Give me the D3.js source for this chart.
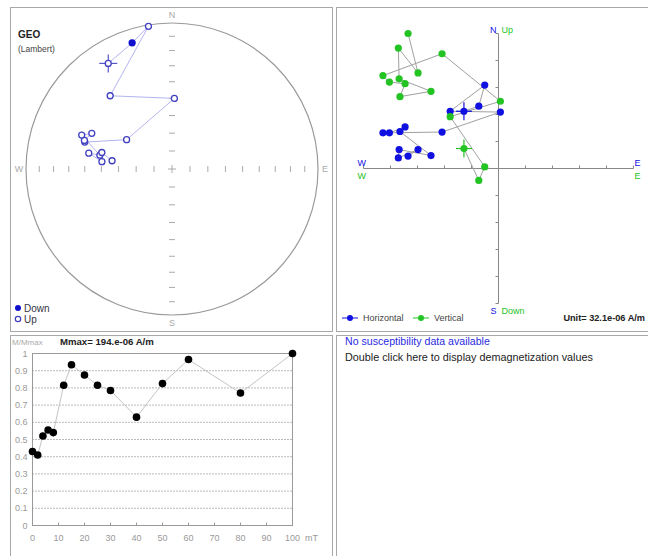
<!DOCTYPE html>
<html>
<head>
<meta charset="utf-8">
<script src="https://cdn.jsdelivr.net/npm/d3@7"></script>
<style>
  body { margin: 0; background: #fff; }
  svg { display: block; font-family: "Liberation Sans", Arial, sans-serif; }
</style>
</head>
<body>
<svg id="chart" width="648" height="556"></svg>
<script>
// demagnetization steps (mT)
const steps = [0, 2, 4, 6, 8, 12, 15, 20, 25, 30, 40, 50, 60, 80, 100]
// vector components in plot units (1 unit = 32.1e-06 A/m)
const east = [-1.28, -0.73, -0.51, -1.79, 0.07, -2.09, -4.28, -4.04, -3.46, -3.65, -2.5, -3.68, -3.71, -2.98, -3.35]
const north = [2.12, 2.31, 3.09, 2.12, 2.09, 1.35, 1.32, 1.32, 1.54, 1.37, 0.48, 0.7, 0.39, 0.7, 0.46]
const up = [0.74, -0.44, 0.06, 1.92, 2.49, 4.25, 3.44, 3.2, 3.14, 2.66, 2.86, 3.32, 4.46, 3.54, 5.0]
// normalized intensity M/Mmax
const intensity = [0.43, 0.41, 0.52, 0.555, 0.54, 0.815, 0.935, 0.875, 0.815, 0.785, 0.63, 0.825, 0.965, 0.77, 1.0]
const yTicks = [0, 0.1, 0.2, 0.3, 0.4, 0.5, 0.6, 0.7, 0.8, 0.9, 1]
const xTicks = [0, 10, 20, 30, 40, 50, 60, 70, 80, 90, 100]
const zTicks = [-5, -4, -3, -2, -1, 1, 2, 3, 4, 5]
const incTicks = [10, 20, 30, 40, 50, 60, 70, 80]

const svg = d3.select('#chart')
const data = steps.map((s, i) => ({ step: s, e: east[i], n: north[i], u: up[i], m: intensity[i] }))

const BLUE = '#1010e0'
const GREEN = '#22c322'

// panel frames
const panels = [[10, 7, 322, 324], [336, 7, 320, 324], [10, 335, 322, 230], [336, 335, 320, 230]]
svg.selectAll('.panel')
  .data(panels)
  .enter()
  .append('rect')
  .attr('class', 'panel')
  .attr('x', (d) => d[0] + 0.5)
  .attr('y', (d) => d[1] + 0.5)
  .attr('width', (d) => d[2])
  .attr('height', (d) => d[3])
  .style('fill', 'none')
  .style('stroke', '#a8a8a8')

// ---------- Stereonet (equal area) ----------
const cx = 172
const cy = 169
const R = 146
const rScale = d3.scaleLinear().domain([0, 1]).range([0, R])
const lambert = (inc) => Math.SQRT2 * Math.sin(((90 - Math.abs(inc)) / 2) * Math.PI / 180)

const stereo = svg.append('g').attr('transform', `translate(${cx},${cy})`)
stereo.append('circle').attr('r', R).style('fill', 'none').style('stroke', '#9a9a9a').style('stroke-width', 1.2)

const tickR = incTicks.map((d) => rScale(lambert(d)))
const tg = stereo.append('g').style('stroke', '#aaa').style('stroke-width', 1)
tickR.forEach((r) => {
  ;[-1, 1].forEach((s) => {
    tg.append('line').attr('x1', s * r).attr('x2', s * r).attr('y1', -3).attr('y2', 3)
    tg.append('line').attr('y1', s * r).attr('y2', s * r).attr('x1', -3).attr('x2', 3)
  })
})
tg.append('line').attr('x1', -4).attr('x2', 4)
tg.append('line').attr('y1', -4).attr('y2', 4)

const compass = [['N', 0, -R - 5], ['S', 0, R + 11], ['W', -R - 7, 3], ['E', R + 7, 3]]
stereo.selectAll('.compass')
  .data(compass)
  .enter()
  .append('text')
  .attr('x', (d) => d[1])
  .attr('y', (d) => d[2])
  .attr('text-anchor', 'middle')
  .style('font-size', '9px')
  .style('fill', '#aaa')
  .text((d) => d[0])

const stereoPts = data.map((d) => {
  const h = Math.hypot(d.e, d.n)
  const inc = Math.atan2(d.u, h) * 180 / Math.PI
  const dec = Math.atan2(d.e, d.n)
  const r = rScale(lambert(inc))
  return { x: r * Math.sin(dec), y: -r * Math.cos(dec), down: d.u < 0 }
})

stereo.append('path')
  .datum(stereoPts)
  .attr('d', d3.line().x((d) => d.x).y((d) => d.y))
  .style('fill', 'none')
  .style('stroke', '#b4b4f0')
  .style('stroke-width', 1)

// cross on first step
stereo.append('g')
  .style('stroke', '#5555cc')
  .style('stroke-width', 1.2)
  .call((g) => {
    g.append('line').attr('x1', stereoPts[0].x - 9).attr('x2', stereoPts[0].x + 9).attr('y1', stereoPts[0].y).attr('y2', stereoPts[0].y)
    g.append('line').attr('y1', stereoPts[0].y - 9).attr('y2', stereoPts[0].y + 9).attr('x1', stereoPts[0].x).attr('x2', stereoPts[0].x)
  })

stereo.selectAll('.spt')
  .data(stereoPts)
  .enter()
  .append('circle')
  .attr('class', 'spt')
  .attr('cx', (d) => d.x)
  .attr('cy', (d) => d.y)
  .attr('r', 3)
  .style('fill', (d) => (d.down ? '#1010cc' : '#fff'))
  .style('stroke', (d) => (d.down ? '#1010cc' : '#4040c0'))
  .style('stroke-width', 1.3)

svg.append('text').attr('x', 18).attr('y', 38).style('font-size', '10px').style('font-weight', 'bold').style('fill', '#222').text('GEO')
svg.append('text').attr('x', 18).attr('y', 52).style('font-size', '8.5px').style('fill', '#444').text('(Lambert)')

svg.append('circle').attr('cx', 18).attr('cy', 308).attr('r', 3).style('fill', '#1010cc')
svg.append('circle').attr('cx', 18).attr('cy', 319).attr('r', 2.7).style('fill', '#fff').style('stroke', '#4040c0').style('stroke-width', 1.2)
svg.append('text').attr('x', 24).attr('y', 312).style('font-size', '10px').style('fill', '#334').text('Down')
svg.append('text').attr('x', 24).attr('y', 323).style('font-size', '10px').style('fill', '#334').text('Up')

// ---------- Zijderveld diagram ----------
const zx = d3.scaleLinear().domain([-5, 5]).range([363.5, 633.5])
const zy = d3.scaleLinear().domain([-5, 5]).range([303.5, 33.5])
const zij = svg.append('g')

zij.append('line').attr('x1', zx(-5)).attr('x2', zx(5)).attr('y1', zy(0)).attr('y2', zy(0)).style('stroke', '#888')
zij.append('line').attr('x1', zx(0)).attr('x2', zx(0)).attr('y1', zy(5)).attr('y2', zy(-5)).style('stroke', '#888')
zij.selectAll('.xt')
  .data(zTicks)
  .enter()
  .append('line')
  .attr('x1', (d) => zx(d))
  .attr('x2', (d) => zx(d))
  .attr('y1', zy(0))
  .attr('y2', zy(0) - 3)
  .style('stroke', '#888')
zij.selectAll('.yt')
  .data(zTicks)
  .enter()
  .append('line')
  .attr('y1', (d) => zy(d))
  .attr('y2', (d) => zy(d))
  .attr('x1', zx(0))
  .attr('x2', zx(0) - 3)
  .style('stroke', '#888')

const zlabels = [
  ['N', zx(0) - 2, zy(5) - 1, 'end', BLUE],
  ['Up', zx(0) + 3, zy(5) - 1, 'start', GREEN],
  ['S', zx(0) - 2, zy(-5) + 10, 'end', BLUE],
  ['Down', zx(0) + 3, zy(-5) + 10, 'start', GREEN],
  ['W', zx(-5) - 6, zy(0) - 3, 'start', BLUE],
  ['W', zx(-5) - 6, zy(0) + 10, 'start', GREEN],
  ['E', zx(5) + 1, zy(0) - 3, 'start', BLUE],
  ['E', zx(5) + 1, zy(0) + 10, 'start', GREEN]
]
zij.selectAll('.zl')
  .data(zlabels)
  .enter()
  .append('text')
  .attr('x', (d) => d[1])
  .attr('y', (d) => d[2])
  .attr('text-anchor', (d) => d[3])
  .style('font-size', '9px')
  .style('fill', (d) => d[4])
  .text((d) => d[0])

const series = [
  { key: 'n', color: BLUE },
  { key: 'u', color: GREEN }
]
series.forEach((s) => {
  zij.append('path')
    .datum(data)
    .attr('d', d3.line().x((d) => zx(d.e)).y((d) => zy(d[s.key])))
    .style('fill', 'none')
    .style('stroke', '#a0a0a0')
    .style('stroke-width', 1)
})
// crosses on first step
series.forEach((s) => {
  const px = zx(data[0].e)
  const py = zy(data[0][s.key])
  zij.append('line').attr('x1', px - 8).attr('x2', px + 8).attr('y1', py).attr('y2', py).style('stroke', s.color).style('stroke-width', 1.2)
  zij.append('line').attr('x1', px).attr('x2', px).attr('y1', py - 9).attr('y2', py + 9).style('stroke', s.color).style('stroke-width', 1.2)
})
series.forEach((s) => {
  zij.selectAll('.p' + s.key)
    .data(data)
    .enter()
    .append('circle')
    .attr('cx', (d) => zx(d.e))
    .attr('cy', (d) => zy(d[s.key]))
    .attr('r', 3.6)
    .style('fill', s.color)
})

// legend
const legend = [['Horizontal', BLUE, 342], ['Vertical', GREEN, 413]]
legend.forEach(([label, color, x]) => {
  svg.append('line').attr('x1', x).attr('x2', x + 16).attr('y1', 318).attr('y2', 318).style('stroke', color)
  svg.append('circle').attr('cx', x + 8).attr('cy', 318).attr('r', 3).style('fill', color)
  svg.append('text').attr('x', x + 21).attr('y', 321).style('font-size', '9px').style('fill', '#444').text(label)
})
svg.append('text').attr('x', 645).attr('y', 321).attr('text-anchor', 'end').style('font-size', '9.2px').style('font-weight', 'bold').style('fill', '#222').text('Unit=  32.1e-06 A/m')

// ---------- Intensity decay ----------
const ix = d3.scaleLinear().domain([0, 100]).range([32.5, 292.5])
const iy = d3.scaleLinear().domain([0, 1]).range([525.5, 353.5])
const dec = svg.append('g')

dec.selectAll('.grid')
  .data(yTicks.filter((d) => d > 0 && d < 1))
  .enter()
  .append('line')
  .attr('x1', ix(0))
  .attr('x2', ix(100))
  .attr('y1', (d) => iy(d))
  .attr('y2', (d) => iy(d))
  .style('stroke', '#777')
  .style('stroke-dasharray', '1,2')
dec.append('rect')
  .attr('x', ix(0))
  .attr('y', iy(1))
  .attr('width', ix(100) - ix(0))
  .attr('height', iy(0) - iy(1))
  .style('fill', 'none')
  .style('stroke', '#999')
dec.selectAll('.xtk')
  .data(xTicks)
  .enter()
  .append('line')
  .attr('x1', (d) => ix(d))
  .attr('x2', (d) => ix(d))
  .attr('y1', iy(0))
  .attr('y2', iy(0) - 3)
  .style('stroke', '#999')
dec.selectAll('.ytl')
  .data(yTicks)
  .enter()
  .append('text')
  .attr('x', ix(0) - 5)
  .attr('y', (d) => iy(d) + 3)
  .attr('text-anchor', 'end')
  .style('font-size', '9px')
  .style('fill', '#999')
  .text((d) => d)
dec.selectAll('.xtl')
  .data(xTicks)
  .enter()
  .append('text')
  .attr('x', (d) => ix(d))
  .attr('y', iy(0) + 15)
  .attr('text-anchor', 'middle')
  .style('font-size', '9px')
  .style('fill', '#999')
  .text((d) => d)
dec.append('text').attr('x', 305).attr('y', iy(0) + 15).style('font-size', '9px').style('fill', '#999').text('mT')

dec.append('path')
  .datum(data)
  .attr('d', d3.line().x((d) => ix(d.step)).y((d) => iy(d.m)))
  .style('fill', 'none')
  .style('stroke', '#c4c4c4')
dec.selectAll('.ipt')
  .data(data)
  .enter()
  .append('circle')
  .attr('cx', (d) => ix(d.step))
  .attr('cy', (d) => iy(d.m))
  .attr('r', 3.8)
  .style('fill', '#000')

svg.append('text').attr('x', 12).attr('y', 345).style('font-size', '8px').style('fill', '#aaa').text('M/Mmax')
svg.append('text').attr('x', 60).attr('y', 345).style('font-size', '9.6px').style('font-weight', 'bold').style('fill', '#222').text('Mmax= 194.e-06 A/m')

// ---------- susceptibility panel ----------
svg.append('text').attr('x', 345).attr('y', 345).style('font-size', '10.6px').style('fill', '#2a2ae0').text('No susceptibility data available')
svg.append('text').attr('x', 345).attr('y', 361).style('font-size', '10.8px').style('fill', '#222').text('Double click here to display demagnetization values')
</script>
</body>
</html>
